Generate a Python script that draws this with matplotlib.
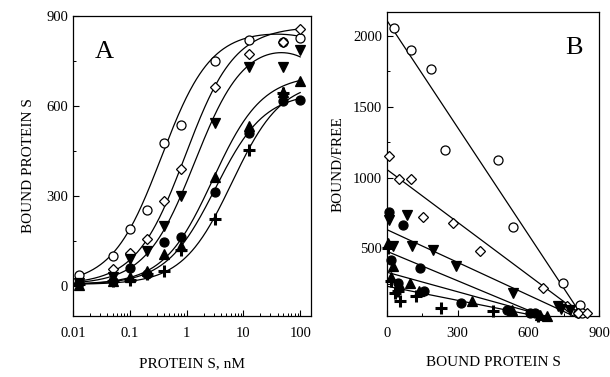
import numpy as np
import matplotlib
matplotlib.use("Agg")
import matplotlib.pyplot as plt
from matplotlib.ticker import FixedLocator, NullFormatter, LogLocator

plt.rcParams['font.family'] = ['Liberation Serif', 'DejaVu Serif']

# ---------------- data -----------------
conc = [0.0125, 0.05, 0.1, 0.2, 0.4, 0.8, 3.2, 12.5, 50, 100]

bound_open_circle = [36, 100, 189, 252, 475, 538, 750, 820, 812, 828]
bound_open_diamond = [10, 55, 110, 156, 283, 391, 664, 774, 812, 856]
bound_down_tri = [10, 30, 90, 115, 200, 300, 544, 731, 731, 787]
bound_filled_circle = [10, 15, 60, 40, 146, 162, 312, 510, 615, 620]
bound_up_tri = [3, 15, 30, 50, 105, 134, 362, 532, 648, 684]
bound_plus = [5, 15, 20, 40, 51, 120, 222, 453, 642]

# fitted curve parameters (Bmax, Kd, nonspecific slope)
fit_bmax = [850, 860, 820, 640, 700, 680]
fit_kd = [0.36, 0.95, 1.4, 3.2, 2.9, 6.3]
fit_ns = [0.2, 0.0, 0.5, 0.0, 0.0, 0.0]

# Scatchard panel (bound, bound/free)
sc_open_circle_x = [31, 102, 185, 246, 473, 533, 748, 819, 812, 828]
sc_open_circle_y = [2060, 1903, 1767, 1192, 1126, 651, 256, 97, 45, 40]
sc_open_diamond_x = [10, 51, 102, 154, 281, 395, 661, 763, 811, 848]
sc_open_diamond_y = [1150, 990, 990, 722, 680, 479, 220, 95, 45, 45]
sc_down_tri_x = [10, 27, 84, 105, 197, 293, 536, 727, 740, 777]
sc_down_tri_y = [700, 514, 738, 514, 491, 373, 185, 90, 70, 62]
sc_filled_circle_x = [8, 15, 69, 45, 140, 158, 313, 508, 607, 628]
sc_filled_circle_y = [760, 420, 667, 256, 361, 196, 114, 62, 44, 40]
sc_up_tri_x = [3, 15, 27, 50, 98, 134, 359, 529, 650, 680]
sc_up_tri_y = [540, 300, 373, 250, 256, 200, 126, 67, 30, 25]
sc_plus_x = [5, 15, 34, 45, 55, 123, 228, 449, 640]
sc_plus_y = [500, 270, 185, 200, 126, 161, 79, 55, 25]

# Scatchard line parameters: y-intercept and x-intercept
line_y0 = [2110, 1057, 632, 479, 331, 232]
line_x0 = [837, 850, 820, 690, 720, 700]

# ---------------- styles -----------------
styles = [
    dict(marker='o', mfc='white', mec='black', ms=6.5),
    dict(marker='D', mfc='white', mec='black', ms=5.0),
    dict(marker='v', mfc='black', mec='black', ms=7.5),
    dict(marker='o', mfc='black', mec='black', ms=6.5),
    dict(marker='^', mfc='black', mec='black', ms=7.5),
    dict(marker='+', mfc='black', mec='black', ms=8.5, mew=2.2),
]

bound_sets = [bound_open_circle, bound_open_diamond, bound_down_tri,
              bound_filled_circle, bound_up_tri, bound_plus]
sc_sets = [(sc_open_circle_x, sc_open_circle_y), (sc_open_diamond_x, sc_open_diamond_y),
           (sc_down_tri_x, sc_down_tri_y), (sc_filled_circle_x, sc_filled_circle_y),
           (sc_up_tri_x, sc_up_tri_y), (sc_plus_x, sc_plus_y)]

fig = plt.figure(figsize=(6.10, 3.77), dpi=100)
axA = fig.add_axes([0.1197, 0.1618, 0.3901, 0.7958])
axB = fig.add_axes([0.6344, 0.163, 0.3476, 0.805])

# ---------- Panel A ----------
xs = np.logspace(np.log10(0.012), np.log10(100), 300)
for bm, kd, ns in zip(fit_bmax, fit_kd, fit_ns):
    ys = bm * xs / (kd + xs) - ns * xs + 5
    axA.plot(xs, ys, color='black', lw=0.9, zorder=2)
for vals, st in zip(bound_sets, styles):
    st2 = dict(st)
    st2.setdefault('mew', 0.9)
    axA.plot(conc[:len(vals)], vals, ls='none', zorder=3, clip_on=False, **st2)

axA.set_xscale('log')
axA.set_xlim(0.01, 155)
axA.set_ylim(-100, 900)
axA.xaxis.set_major_locator(FixedLocator([0.01, 0.1, 1, 10, 100]))
axA.set_xticklabels(['0.01', '0.1', '1', '10', '100'])
axA.xaxis.set_minor_locator(LogLocator(base=10, subs=np.arange(2, 10)))
axA.xaxis.set_minor_formatter(NullFormatter())
axA.yaxis.set_major_locator(FixedLocator([0, 300, 600, 900]))
axA.yaxis.set_minor_locator(FixedLocator([-150, 150, 450, 750]))
axA.set_xlabel('PROTEIN S, nM', fontsize=11, labelpad=12)
axA.set_ylabel('BOUND PROTEIN S', fontsize=11, labelpad=8)
axA.text(0.13, 0.88, 'A', transform=axA.transAxes, fontsize=19, ha='center', va='center')

# ---------- Panel B ----------
for y0, x0 in zip(line_y0, line_x0):
    lx = np.array([0, x0 * 0.985])
    axB.plot(lx, y0 * (1 - lx / x0), color='black', lw=0.9, zorder=2)
for (sx, sy), st in zip(sc_sets, styles):
    st2 = dict(st)
    st2.setdefault('mew', 0.9)
    axB.plot(sx, sy, ls='none', zorder=3, clip_on=False, **st2)

axB.set_xlim(0, 900)
axB.set_ylim(25, 2170)
axB.xaxis.set_major_locator(FixedLocator([0, 300, 600, 900]))
axB.xaxis.set_minor_locator(FixedLocator([150, 450, 750]))
axB.yaxis.set_major_locator(FixedLocator([500, 1000, 1500, 2000]))
axB.yaxis.set_minor_locator(FixedLocator([250, 750, 1250, 1750]))
axB.set_xlabel('BOUND PROTEIN S', fontsize=11, labelpad=12)
axB.set_ylabel('BOUND/FREE', fontsize=11, labelpad=6)
axB.text(0.88, 0.88, 'B', transform=axB.transAxes, fontsize=19, ha='center', va='center')

for ax in (axA, axB):
    ax.tick_params(which='both', direction='in', top=False, right=False, labelsize=10.5)
    ax.tick_params(which='major', length=4, width=0.8)
    ax.tick_params(which='minor', length=2.5, width=0.7)
    for sp in ax.spines.values():
        sp.set_linewidth(0.9)
    ax.tick_params(axis='x', pad=8)

fig.savefig('out.png', dpi=100)
